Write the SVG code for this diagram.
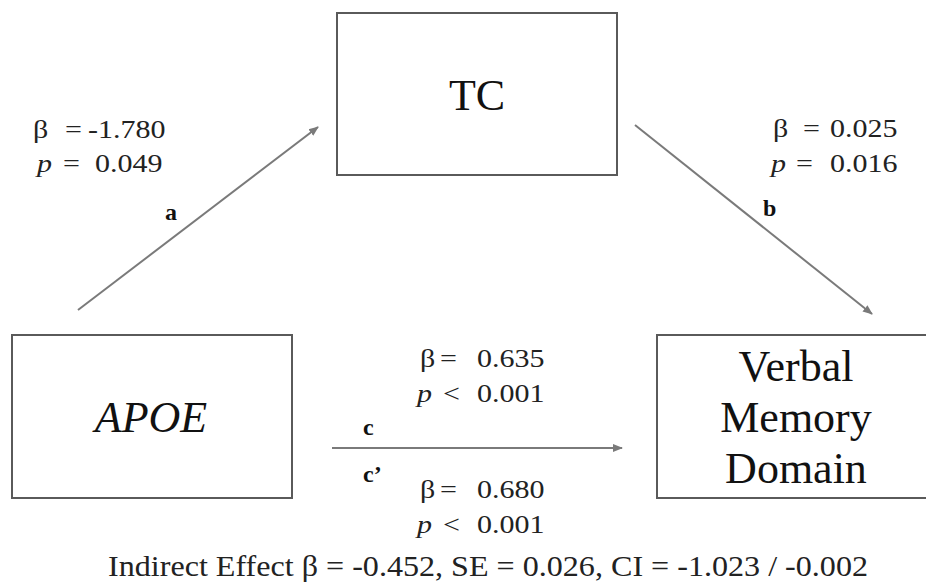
<svg xmlns="http://www.w3.org/2000/svg" width="926" height="584" viewBox="0 0 926 584">
<style>
text{font-family:'Liberation Serif',serif}
.box{fill:#fff;stroke:#5a5a5a;stroke-width:2}
.big{font-size:44px;fill:#111;text-anchor:middle}
.st{font-size:25px;fill:#222}
.lab{font-size:24px;font-weight:bold;fill:#111}
.conn{stroke:#7a7a7a;stroke-width:2;fill:none;marker-end:url(#arr)}
.it{font-style:italic}
</style>
<defs>
<marker id="arr" viewBox="0 0 10 10" refX="9" refY="5" markerWidth="5" markerHeight="5" orient="auto">
<path d="M0,1 L10,5 L0,9 z" fill="#7a7a7a"/>
</marker>
</defs>
<rect width="926" height="584" fill="#fff"/>
<g id="node-tc">
<rect class="box" x="337" y="13" width="280" height="162"/>
<text class="big" font-family="Liberation Serif" x="477" y="110">TC</text>
</g>
<g id="node-apoe">
<rect class="box" x="12" y="335" width="280" height="163"/>
<text class="big it" font-family="Liberation Serif" x="151" y="432">APOE</text>
</g>
<g id="node-verbal">
<rect class="box" x="657" y="335" width="290" height="163"/>
<text class="big" font-family="Liberation Serif" x="796" y="381">Verbal</text>
<text class="big" font-family="Liberation Serif" x="796" y="432">Memory</text>
<text class="big" font-family="Liberation Serif" x="796" y="483">Domain</text>
</g>
<g id="connectors">
<line class="conn" x1="78" y1="310" x2="318" y2="127"/>
<line class="conn" x1="635" y1="125" x2="872" y2="314"/>
<line class="conn" x1="332" y1="448" x2="622" y2="448"/>
</g>
<g id="labels">
<text class="lab" font-family="Liberation Serif" x="165" y="220">a</text>
<text class="lab" font-family="Liberation Serif" x="763" y="216">b</text>
<text class="lab" font-family="Liberation Serif" x="363" y="435">c</text>
<text class="lab" font-family="Liberation Serif" x="363" y="482">c&#8217;</text>
<text class="st" font-family="Liberation Serif" transform="matrix(1.2 0 0 1 33 138)"><tspan x="0">&#946;</tspan><tspan x="26.7">=</tspan><tspan x="45.8">-1.780</tspan></text>
<text class="st" font-family="Liberation Serif" transform="matrix(1.2 0 0 1 37 172)"><tspan x="0" class="it">p</tspan><tspan x="21.7">=</tspan><tspan x="48.3">0.049</tspan></text>
<text class="st" font-family="Liberation Serif" transform="matrix(1.2 0 0 1 773 137)"><tspan x="0">&#946;</tspan><tspan x="25">=</tspan><tspan x="47.5">0.025</tspan></text>
<text class="st" font-family="Liberation Serif" transform="matrix(1.2 0 0 1 771 172)"><tspan x="0" class="it">p</tspan><tspan x="20.8">=</tspan><tspan x="49.2">0.016</tspan></text>
<text class="st" font-family="Liberation Serif" transform="matrix(1.2 0 0 1 420 367)"><tspan x="0">&#946;</tspan><tspan x="16.7">=</tspan><tspan x="47.5">0.635</tspan></text>
<text class="st" font-family="Liberation Serif" transform="matrix(1.2 0 0 1 417 402)"><tspan x="0" class="it">p</tspan><tspan x="21.7">&lt;</tspan><tspan x="50">0.001</tspan></text>
<text class="st" font-family="Liberation Serif" transform="matrix(1.2 0 0 1 420 498)"><tspan x="0">&#946;</tspan><tspan x="16.7">=</tspan><tspan x="47.5">0.680</tspan></text>
<text class="st" font-family="Liberation Serif" transform="matrix(1.2 0 0 1 417 533)"><tspan x="0" class="it">p</tspan><tspan x="21.7">&lt;</tspan><tspan x="50">0.001</tspan></text>
<text class="st" font-family="Liberation Serif" style="font-size:29px" x="108" y="576" textLength="760" lengthAdjust="spacingAndGlyphs">Indirect Effect &#946; = -0.452, SE = 0.026, CI = -1.023 / -0.002</text>
</g>
</svg>
